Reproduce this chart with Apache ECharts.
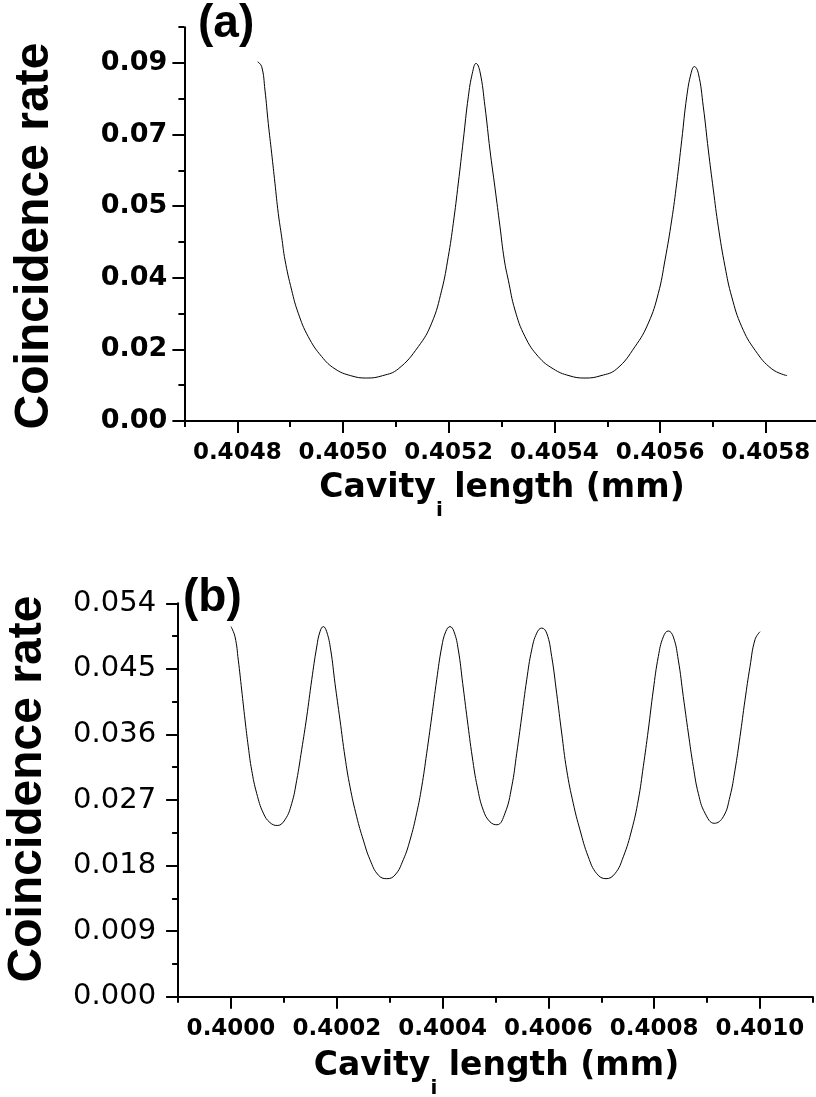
<!DOCTYPE html>
<html>
<head>
<meta charset="utf-8">
<script src="https://cdn.jsdelivr.net/npm/echarts@6/dist/echarts.min.js"></script>
<style>
  html, body { margin: 0; padding: 0; background: #fff; }
  #chart { width: 816px; height: 1097px; }
</style>
</head>
<body>
<div id="chart"></div>
<script>
// Panel (a): coincidence rate vs cavity length, 0.4048–0.4058 mm
const lengthA = [0.4048386, 0.4048462, 0.4048524, 0.4048587, 0.4048651, 0.4048713, 0.4048776, 0.4048840,
  0.4048903, 0.4049029, 0.4049154, 0.4049343, 0.4049597, 0.4049849, 0.4050146, 0.4050448, 0.4050751,
  0.4051046, 0.4051425, 0.4051678, 0.4051868, 0.4051992, 0.4052087, 0.4052182, 0.4052276, 0.4052371,
  0.4052447, 0.4052517, 0.4052592, 0.4052687, 0.4052781, 0.4052876, 0.4052971, 0.4053052, 0.4053128,
  0.4053254, 0.4053444, 0.4053695, 0.4053979, 0.4054276, 0.4054579, 0.4054882, 0.4055179, 0.4055525,
  0.4055777, 0.4055966, 0.4056093, 0.4056219, 0.4056314, 0.4056409, 0.4056503, 0.4056585, 0.4056647,
  0.4056723, 0.4056817, 0.4056912, 0.4057007, 0.4057101, 0.4057228, 0.4057355, 0.4057544, 0.4057796,
  0.4058112, 0.4058401];
const rateA = [0.0903, 0.0891, 0.0832, 0.0748, 0.0673, 0.0598, 0.0522, 0.0463,
  0.0405, 0.0329, 0.0271, 0.0212, 0.0162, 0.0131, 0.0114, 0.0108, 0.0114,
  0.0131, 0.0187, 0.0246, 0.0329, 0.0413, 0.0497, 0.0598, 0.0706, 0.0815,
  0.0874, 0.0899, 0.0878, 0.0790, 0.0681, 0.0586, 0.0488, 0.0405, 0.0354,
  0.0279, 0.0212, 0.0162, 0.0131, 0.0114, 0.0108, 0.0114, 0.0131, 0.0187,
  0.0246, 0.0321, 0.0405, 0.0505, 0.0598, 0.0706, 0.0815, 0.0874, 0.0891,
  0.0874, 0.0790, 0.0681, 0.0581, 0.0488, 0.0388, 0.0312, 0.0237, 0.0178,
  0.0131, 0.0114];

// Panel (b): coincidence rate vs cavity length, 0.4000–0.4010 mm
const lengthB = [0.4000000, 0.4000076, 0.4000138, 0.4000202, 0.4000265, 0.4000327, 0.4000391, 0.4000486,
  0.4000611, 0.4000737, 0.4000875, 0.4001021, 0.4001147, 0.4001242, 0.4001336, 0.4001431, 0.4001526,
  0.4001620, 0.4001682, 0.4001745, 0.4001809, 0.4001885, 0.4001966, 0.4002060, 0.4002155, 0.4002250,
  0.4002376, 0.4002501, 0.4002628, 0.4002784, 0.4002943, 0.4003100, 0.4003257, 0.4003384, 0.4003510,
  0.4003605, 0.4003699, 0.4003794, 0.4003888, 0.4003983, 0.4004059, 0.4004140, 0.4004216, 0.4004297,
  0.4004380, 0.4004467, 0.4004561, 0.4004656, 0.4004769, 0.4004896, 0.4005028, 0.4005180, 0.4005306,
  0.4005401, 0.4005495, 0.4005590, 0.4005684, 0.4005779, 0.4005873, 0.4005968, 0.4006062, 0.4006157,
  0.4006251, 0.4006346, 0.4006471, 0.4006597, 0.4006754, 0.4006913, 0.4007089, 0.4007259, 0.4007416,
  0.4007575, 0.4007699, 0.4007794, 0.4007888, 0.4007983, 0.4008078, 0.4008172, 0.4008267, 0.4008361,
  0.4008456, 0.4008550, 0.4008645, 0.4008739, 0.4008834, 0.4008960, 0.4009136, 0.4009306, 0.4009433,
  0.4009527, 0.4009622, 0.4009716, 0.4009811, 0.4009905, 0.4010000];
const rateB = [0.0508, 0.0494, 0.0462, 0.0421, 0.0380, 0.0343, 0.0311, 0.0279,
  0.0252, 0.0239, 0.0235, 0.0243, 0.0265, 0.0297, 0.0339, 0.0384, 0.0435,
  0.0480, 0.0501, 0.0508, 0.0501, 0.0476, 0.0430, 0.0380, 0.0329, 0.0288,
  0.0247, 0.0215, 0.0188, 0.0167, 0.0162, 0.0167, 0.0188, 0.0215, 0.0252,
  0.0288, 0.0334, 0.0384, 0.0435, 0.0480, 0.0501, 0.0508, 0.0501, 0.0476,
  0.0430, 0.0380, 0.0329, 0.0288, 0.0256, 0.0240, 0.0236, 0.0252, 0.0288,
  0.0334, 0.0384, 0.0435, 0.0476, 0.0499, 0.0506, 0.0499, 0.0467, 0.0416,
  0.0362, 0.0311, 0.0265, 0.0229, 0.0192, 0.0169, 0.0162, 0.0169, 0.0192,
  0.0229, 0.0270, 0.0316, 0.0366, 0.0421, 0.0467, 0.0494, 0.0502, 0.0494,
  0.0462, 0.0412, 0.0362, 0.0316, 0.0279, 0.0252, 0.0238, 0.0247, 0.0275,
  0.0311, 0.0357, 0.0407, 0.0453, 0.0490, 0.0501];

// Axis ticks and their labels
const xMajorA = [0.4048, 0.4050, 0.4052, 0.4054, 0.4056, 0.4058];
const xLabelsA = ['0.4048', '0.4050', '0.4052', '0.4054', '0.4056', '0.4058'];
const xMinorA = [0.4047, 0.4049, 0.4051, 0.4053, 0.4055, 0.4057, 0.4059];
const yMajorA = [0, 0.018, 0.036, 0.054, 0.072, 0.090];
const yLabelsA = ['0.00', '0.02', '0.04', '0.05', '0.07', '0.09'];
const yMinorA = [0.009, 0.027, 0.045, 0.063, 0.081, 0.099];

const xMajorB = [0.4000, 0.4002, 0.4004, 0.4006, 0.4008, 0.4010];
const xLabelsB = ['0.4000', '0.4002', '0.4004', '0.4006', '0.4008', '0.4010'];
const xMinorB = [0.3999, 0.4001, 0.4003, 0.4005, 0.4007, 0.4009, 0.4011];
const yMajorB = [0, 0.009, 0.018, 0.027, 0.036, 0.045, 0.054];
const yLabelsB = ['0.000', '0.009', '0.018', '0.027', '0.036', '0.045', '0.054'];
const yMinorB = [0.0045, 0.0135, 0.0225, 0.0315, 0.0405, 0.0495];

const xTitle = '{m|Cavity}{s|i}{m| length (mm)}';
const yTitle = 'Coincidence rate';

const BLACK = '#000';
const WIDE = 'DejaVu Sans';
const ARIAL = 'Liberation Sans, Arial, sans-serif';

function zip(xs, ys) { return xs.map((x, i) => [x, ys[i]]); }
function labelFor(ticks, labels) {
  return function (v) {
    const i = ticks.findIndex(t => Math.abs(t - v) < 1e-9);
    return i >= 0 ? labels[i] : '';
  };
}

function majorAxis(grid, min, max, ticks, labels, label, margin) {
  return {
    type: 'value', gridIndex: grid, min: min, max: max,
    axisLine: { show: true, onZero: false, lineStyle: { color: BLACK, width: 2 } },
    axisTick: { show: true, inside: false, length: 12, customValues: ticks, lineStyle: { color: BLACK, width: 2 } },
    axisLabel: Object.assign({ show: true, customValues: ticks, formatter: labelFor(ticks, labels),
      color: BLACK, margin: margin, hideOverlap: false }, label),
    splitLine: { show: false }, minorTick: { show: false }
  };
}
function minorAxis(grid, min, max, ticks) {
  return {
    type: 'value', gridIndex: grid, min: min, max: max,
    axisLine: { show: false, onZero: false },
    axisTick: { show: true, inside: false, length: 6, customValues: ticks, lineStyle: { color: BLACK, width: 2 } },
    axisLabel: { show: false },
    splitLine: { show: false }
  };
}

// "Cavity" + subscript i + " length (mm)"; the subscript token sits at the bottom of a taller line
function xTitleStyle() {
  return {
    text: xTitle, fill: BLACK, align: 'center', verticalAlign: 'top',
    rich: {
      m: { fontFamily: WIDE, fontWeight: 'bold', fontSize: 33, lineHeight: 40, verticalAlign: 'top', fill: BLACK },
      s: { fontFamily: WIDE, fontWeight: 'bold', fontSize: 20, lineHeight: 49, verticalAlign: 'bottom', fill: BLACK }
    }
  };
}

const xLabelStyle = { fontFamily: WIDE, fontWeight: 'bold', fontSize: 23 };

const lineSeries = (xi, yi, data) => ({
  type: 'line', xAxisIndex: xi, yAxisIndex: yi, data: data,
  showSymbol: false, smooth: 0.45,
  lineStyle: { color: BLACK, width: 1 }, silent: true
});

const option = {
  animation: false,
  backgroundColor: '#fff',
  grid: [
    { left: 184.4, right: -2.7, top: 27.2, bottom: 676, containLabel: false, outerBoundsMode: 'none' },
    { left: 178.1, right: 3.1, top: 603.3, bottom: 100.3, containLabel: false, outerBoundsMode: 'none' }
  ],
  xAxis: [
    Object.assign(majorAxis(0, 0.4047, 0.4059, xMajorA, xLabelsA, xLabelStyle, 21), { position: 'bottom' }),
    Object.assign(minorAxis(0, 0.4047, 0.4059, xMinorA), { position: 'bottom' }),
    Object.assign(majorAxis(1, 0.3999, 0.4011, xMajorB, xLabelsB, xLabelStyle, 21), { position: 'bottom' }),
    Object.assign(minorAxis(1, 0.3999, 0.4011, xMinorB), { position: 'bottom' })
  ],
  yAxis: [
    Object.assign(majorAxis(0, 0, 0.099, yMajorA, yLabelsA,
      { fontFamily: WIDE, fontWeight: 'bold', fontSize: 27 }, 17), { position: 'left' }),
    Object.assign(minorAxis(0, 0, 0.099, yMinorA), { position: 'left' }),
    Object.assign(majorAxis(1, 0, 0.054, yMajorB, yLabelsB,
      { fontFamily: WIDE, fontWeight: 'normal', fontSize: 29 }, 22), { position: 'left' }),
    Object.assign(minorAxis(1, 0, 0.054, yMinorB), { position: 'left' })
  ],
  series: [
    lineSeries(0, 0, zip(lengthA, rateA)),
    lineSeries(2, 2, zip(lengthB, rateB))
  ],
  graphic: [
    // panel tags
    { type: 'text', x: 198, y: 24, style: { text: '(a)', fontFamily: ARIAL, fontWeight: 'bold', fontSize: 46,
      fill: BLACK, align: 'left', verticalAlign: 'middle' } },
    { type: 'text', x: 183, y: 598, style: { text: '(b)', fontFamily: ARIAL, fontWeight: 'bold', fontSize: 46,
      fill: BLACK, align: 'left', verticalAlign: 'middle' } },
    // vertical axis titles
    { type: 'text', x: 35, y: 236, rotation: Math.PI / 2, style: { text: yTitle, fontFamily: ARIAL,
      fontWeight: 'bold', fontSize: 48, fill: BLACK, align: 'center', verticalAlign: 'middle' } },
    { type: 'text', x: 28, y: 789, rotation: Math.PI / 2, style: { text: yTitle, fontFamily: ARIAL,
      fontWeight: 'bold', fontSize: 48, fill: BLACK, align: 'center', verticalAlign: 'middle' } },
    // horizontal axis titles
    { type: 'text', x: 502, y: 472, style: xTitleStyle() },
    { type: 'text', x: 496.5, y: 1049.8, style: xTitleStyle() }
  ]
};

const chart = echarts.init(document.getElementById('chart'), null, { renderer: 'canvas' });
chart.setOption(option);
</script>
</body>
</html>
